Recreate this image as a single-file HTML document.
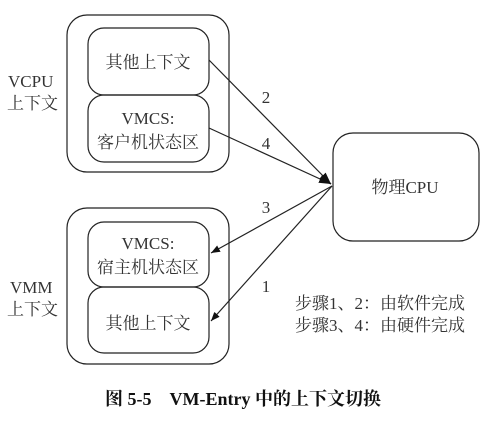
<!DOCTYPE html>
<html><head><meta charset="utf-8"><style>
html,body{margin:0;padding:0;background:#fff;width:496px;height:423px;overflow:hidden}
svg text{font-family:"Liberation Serif","Noto Serif CJK SC",serif;fill:#333}
</style></head><body>
<svg width="496" height="423" viewBox="0 0 496 423" xmlns="http://www.w3.org/2000/svg">
<defs><marker id="a" viewBox="0 0 10 10" refX="10" refY="5" markerWidth="9" markerHeight="9" markerUnits="userSpaceOnUse" orient="auto"><path d="M0,1 L10,5 L0,9 z" fill="#111"/></marker>
<marker id="b" viewBox="0 0 10 10" refX="10" refY="5" markerWidth="12" markerHeight="12" markerUnits="userSpaceOnUse" orient="auto"><path d="M0,1.5 L10,5 L0,8.5 z" fill="#111"/></marker></defs>
<g fill="none" stroke="#222" stroke-width="1.2">
<rect x="67" y="15" width="162" height="157" rx="20"/>
<rect x="88" y="28" width="121" height="67" rx="16"/>
<rect x="88" y="95" width="121" height="67" rx="16"/>
<rect x="67" y="208" width="162" height="156" rx="20"/>
<rect x="88" y="222" width="121" height="65" rx="16"/>
<rect x="88" y="287" width="121" height="66" rx="16"/>
<rect x="333" y="133" width="146" height="108" rx="20"/>
<line x1="209" y1="60" x2="331" y2="184" marker-end="url(#b)"/>
<line x1="209" y1="128" x2="331" y2="184" marker-end="url(#b)"/>
<line x1="332" y1="186" x2="211" y2="253" marker-end="url(#a)"/>
<line x1="332" y1="186" x2="211" y2="321" marker-end="url(#a)"/>
</g>
<g font-size="17" text-anchor="middle">
<text x="148" y="68">其他上下文</text>
<text x="148" y="124">VMCS:</text>
<text x="148" y="148">客户机状态区</text>
<text x="148" y="249">VMCS:</text>
<text x="148" y="273">宿主机状态区</text>
<text x="148" y="329">其他上下文</text>
<text x="405" y="193">物理CPU</text>
<text x="266" y="103">2</text>
<text x="266" y="149">4</text>
<text x="266" y="213">3</text>
<text x="266" y="292">1</text>
</g>
<g font-size="17">
<text x="8" y="87">VCPU</text>
<text x="7" y="109">上下文</text>
<text x="10" y="293">VMM</text>
<text x="7" y="315">上下文</text>
<text x="295" y="309">步骤1、2：由软件完成</text>
<text x="295" y="331">步骤3、4：由硬件完成</text>
</g>
<text x="105" y="405" font-size="18" font-weight="bold" style="fill:#111">图 5-5　VM-Entry 中的上下文切换</text>
</svg>
</body></html>
